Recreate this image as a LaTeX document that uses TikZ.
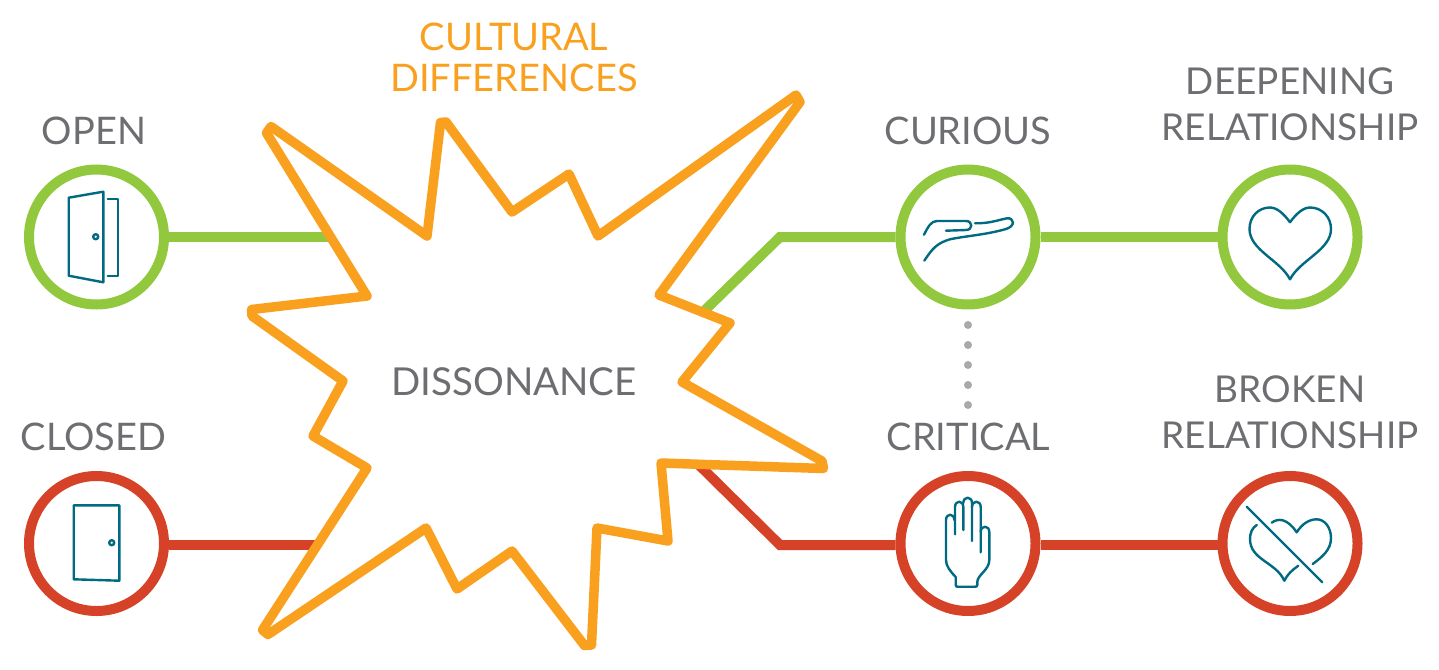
\documentclass[tikz,border=0pt]{standalone}
\usepackage{fontspec}
\setmainfont{Lato}
\usetikzlibrary{calc}
\definecolor{okgreen}{HTML}{92C83E}
\definecolor{badred}{HTML}{D64227}
\definecolor{burstorange}{HTML}{F9A01F}
\definecolor{labelgray}{HTML}{6D6E71}
\definecolor{iconteal}{HTML}{006A82}
\definecolor{dotgray}{HTML}{A7A9AC}
\tikzset{
  ring/.style={circle,draw=#1,line width=10pt,fill=white,minimum size=135pt,inner sep=0pt},
  link/.style={draw=#1,line width=10pt,line join=miter},
  caption/.style={text=labelgray,font=\fontsize{38}{46}\selectfont,align=center,inner sep=0pt},
  icon/.style={draw=iconteal,line width=2.4pt,line join=round,line cap=round}
}
\begin{document}
\begin{tikzpicture}[x=1pt,y=-1pt]
\useasboundingbox (0,0) rectangle (1439,669);
\coordinate (burstopen) at (335,237);
\coordinate (burstclosed) at (325,545);
\coordinate (bendgreen) at (780,237);
\coordinate (bendred) at (780,545);
\coordinate (burstgreen) at (700,315);
\coordinate (burstred) at (698,464);
\coordinate (dotstop) at (968,325);
\coordinate (dotsend) at (968,406);
\node[ring=okgreen] (open) at (96.5,237) {};
\node[ring=badred] (closed) at (96.5,543.5) {};
\node[ring=okgreen] (curious) at (968,237) {};
\node[ring=badred] (critical) at (968,543.5) {};
\node[ring=okgreen] (deepening) at (1290,237) {};
\node[ring=badred] (broken) at (1290,543.5) {};
\draw[link=okgreen] (open.east) -- (burstopen);
\draw[link=badred] (closed.east |- bendred) -- (burstclosed);
\draw[link=okgreen] (burstgreen) -- (bendgreen) -- (curious.west);
\draw[link=badred] (burstred) -- (bendred) -- (critical.west |- bendred);
\draw[link=okgreen] (curious.east) -- (deepening.west);
\draw[link=badred] (critical.east |- bendred) -- (broken.west |- bendred);
\draw[dotgray,line width=8pt,line cap=round,dash pattern=on 0pt off 20pt] (dotstop) -- (dotsend);
% burst
\draw[burstorange,line width=9.5pt,line join=round,fill=white] (266.5,133) -- (271,126.5) -- (427,236) -- (440.5,122.5) -- (446,122) -- (512,212)
  -- (569,174) -- (598,236) -- (796,95) -- (800,102) -- (659,295) -- (730,323) -- (682,382) -- (822,461) -- (823.5,468.5) -- (661,463)
  -- (668,541) -- (597,528) -- (591.5,645) -- (584.5,645.5) -- (512,551) -- (457,589) -- (426,528) -- (268,634.5) -- (262.5,630) -- (367,468)
  -- (313,436) -- (343,381) -- (252,316) -- (251.5,309.5) -- (367,296) -- cycle;
% labels
\node[caption] (openlabel) at (94,131) {OPEN};
\node[caption] (closedlabel) at (93.5,437) {CLOSED};
\node[caption] (curiouslabel) at (968,131) {CURIOUS};
\node[caption] (criticallabel) at (968.5,437) {CRITICAL};
\node[caption,font=\fontsize{37}{46}\selectfont] (deepeninglabel) at (1290,104) {DEEPENING\\RELATIONSHIP};
\node[caption,font=\fontsize{37}{46}\selectfont] (brokenlabel) at (1290,412) {BROKEN\\RELATIONSHIP};
\node[caption,text=burstorange,font=\fontsize{38}{41}\selectfont] (differences) at (514,57.5) {CULTURAL\\DIFFERENCES};
\node[caption,font=\fontsize{38.5}{46}\selectfont] (dissonance) at (514,382) {DISSONANCE};
% open door
\draw[icon] (68.7,197.7) -- (103.3,191.7) -- (103.3,282.3) -- (68.7,275.7) -- cycle;
\draw[icon] (107.7,199) -- (118,199) -- (118,276) -- (107.7,276);
\draw[icon] (95.7,236.7) circle (2.5);
% closed door
\draw[icon] (73.7,505.3) -- (119.3,505.3) -- (119.3,580.7) -- (73.7,579.3) -- cycle;
\draw[icon] (111.7,542.7) circle (2.5);
% open hand
\draw[icon] (924,234.7) .. controls (928,227) and (931,221) .. (937,221) -- (966,221)
  .. controls (973,221) and (973,230) .. (966,230) -- (946,230.7);
\draw[icon] (975,223.3) .. controls (990,223.5) and (998,220) .. (1007,218.3)
  .. controls (1014,217.5) and (1016,226) .. (1006,229) .. controls (985,235) and (965,236) .. (950,239.3)
  .. controls (937,243) and (932,249) .. (924.3,260.7);
% stop hand
\draw[icon] (980.7,552.3) -- (980.7,532) .. controls (980.7,525) and (989.3,525) .. (989.3,532) -- (989.3,560)
  .. controls (989.3,570) and (977.3,575) .. (977.3,582) -- (977.3,585) .. controls (977.3,586.7) and (976,586.7) .. (975,586.7)
  -- (958,586.7) .. controls (956.7,586.7) and (955.7,586.7) .. (955.7,585) -- (955.7,577)
  .. controls (950,571) and (946,566) .. (946,560) -- (946,520) .. controls (946,513) and (954.3,513) .. (954.3,520);
\draw[icon] (955,534.3) -- (955,507) .. controls (955,500) and (963.3,500) .. (963.3,507) -- (963.3,530);
\draw[icon] (963.3,503) .. controls (963.3,496) and (972,496) .. (972,503) -- (972,541);
\draw[icon] (972,507) .. controls (972,500) and (980.7,500) .. (980.7,507) -- (980.7,532);
% heart
\draw[icon] (1290,222.3) .. controls (1296,214) and (1303,207.5) .. (1310,207.5)
  .. controls (1322,207.5) and (1331,217) .. (1331,229) .. controls (1331,250) and (1300,260) .. (1290,279.3)
  .. controls (1280,260) and (1249.5,250) .. (1249.5,229) .. controls (1249.5,217) and (1258,207.5) .. (1270,207.5)
  .. controls (1277,207.5) and (1284,214) .. (1290,222.3);
% broken heart
\draw[icon] (1271.7,522.7) .. controls (1278,518) and (1287,518) .. (1296.7,532.3)
  .. controls (1302,524) and (1309,519.3) .. (1316.7,519.3) .. controls (1325,519.3) and (1331,528) .. (1331,538)
  .. controls (1331,550) and (1322,557) .. (1312.7,564);
\draw[icon] (1256.7,525) .. controls (1252,528) and (1250,533) .. (1250,539) .. controls (1250,560) and (1276,562) .. (1284.3,580.7)
  .. controls (1287,575) and (1292,570) .. (1298.3,565.7);
\draw[icon] (1246.7,506.7) -- (1322.3,582.3);
\end{tikzpicture}
\end{document}
